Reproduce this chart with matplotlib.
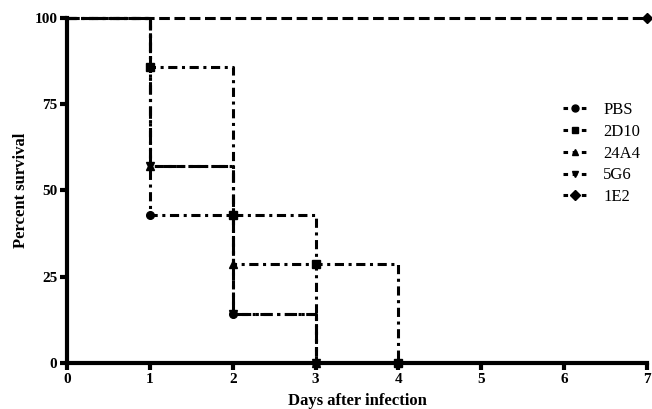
import matplotlib
matplotlib.use("Agg")
import matplotlib.pyplot as plt
from matplotlib.lines import Line2D

# survival data (days, percent)
pbs_days = [0, 1, 2, 3]
pbs_surv = [100, 42.9, 14.3, 0]
d2d10_days = [0, 1, 2, 3, 4]
d2d10_surv = [100, 85.7, 42.9, 28.6, 0]
a24a4_days = [0, 1, 2, 3]
a24a4_surv = [100, 57.1, 28.6, 0]
g5g6_days = [0, 1, 2, 3]
g5g6_surv = [100, 57.1, 14.3, 0]
e1e2_days = [0, 7]
e1e2_surv = [100, 100]

labels = ["PBS", "2D10", "24A4", "5G6", "1E2"]
x_ticks = [0, 1, 2, 3, 4, 5, 6, 7]
y_ticks = [0, 25, 50, 75, 100]

plt.rcParams['font.family'] = ['Liberation Serif', 'DejaVu Serif']

fig = plt.figure(figsize=(6.52, 4.09), dpi=100)
ax = fig.add_axes([0.103, 0.1125, 0.889, 0.8435])

series = [
    (pbs_days, pbs_surv, 'o', (0, (3, 1.5, 1, 1.5))),
    (d2d10_days, d2d10_surv, 's', (0, (3, 1.5, 1, 1.5))),
    (a24a4_days, a24a4_surv, '^', (0, (3, 1.5, 1, 1.5))),
    (g5g6_days, g5g6_surv, 'v', (0, (4, 1.5, 1, 1.5))),
    (e1e2_days, e1e2_surv, 'D', (0, (3.5, 1.5))),
]

handles = []
for (d, s, m, ls), lab in zip(series, labels):
    ax.plot(d, s, drawstyle='steps-post', color='black', linewidth=2.2,
            linestyle=ls, marker=m, markersize=5.5, markevery=list(range(1, len(d))),
            clip_on=False, zorder=3)
    handles.append(Line2D([], [], color='black', linewidth=2.2, linestyle=(0, (1.5, 1.5)),
                          marker=m, markersize=5, label=lab))

ax.set_xlim(0, 7)
ax.set_ylim(0, 100)
ax.set_xticks(x_ticks)
ax.set_yticks(y_ticks)

for side in ['top', 'right']:
    ax.spines[side].set_visible(False)
for side in ['left', 'bottom']:
    ax.spines[side].set_linewidth(3)

ax.tick_params(axis='both', direction='out', length=5, width=3, labelsize=11, pad=2)
for t in ax.get_xticklabels() + ax.get_yticklabels():
    t.set_fontweight('bold')

ax.set_xlabel("Days after infection", fontsize=12, fontweight='bold', labelpad=5)
ax.set_ylabel("Percent survival", fontsize=12, fontweight='bold', labelpad=4)

ax.legend(handles=handles, loc='upper left', bbox_to_anchor=(0.83, 0.8), frameon=False,
          fontsize=12, handlelength=1.4, labelspacing=0.35, handletextpad=1.0)

fig.savefig('out.png', dpi=100)
